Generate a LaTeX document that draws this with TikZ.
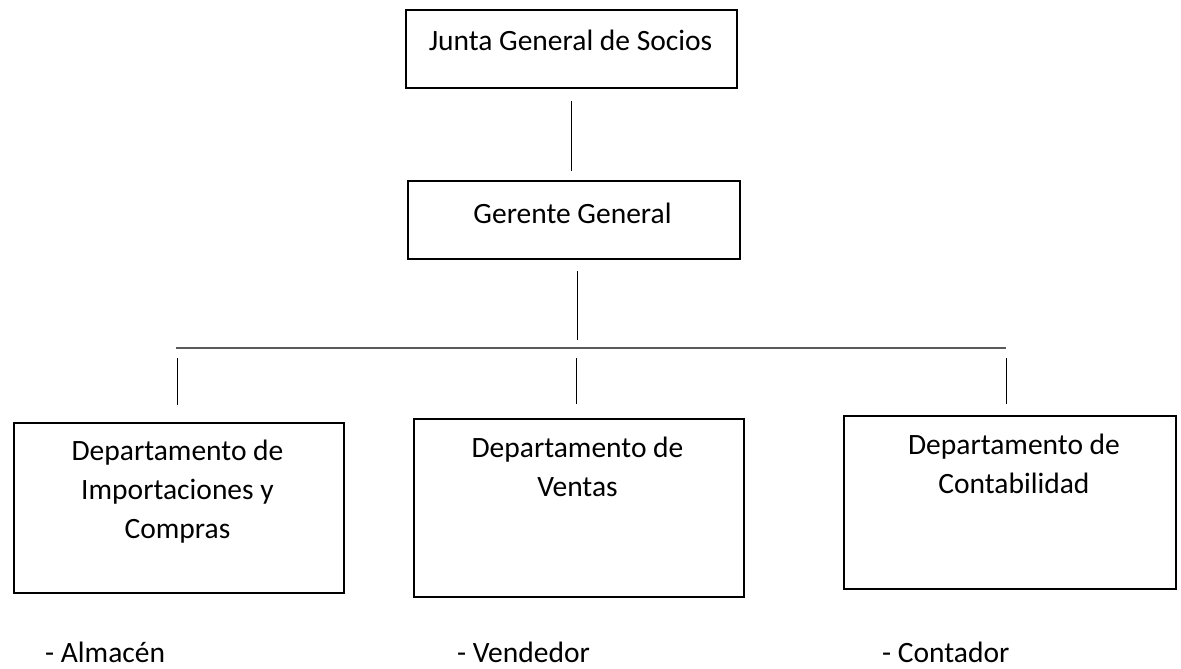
\documentclass[tikz,border=0pt]{standalone}
\usepackage{fontspec}
\setmainfont{Carlito}
\begin{document}
\begin{tikzpicture}[x=1pt,y=-1pt,
  box/.style={draw=black, line width=1.6pt, anchor=north west, inner sep=0pt},
  txt/.style={font=\fontsize{29.5}{39}\selectfont, align=center, inner sep=0pt},
  item/.style={font=\fontsize{29.5}{39}\selectfont, anchor=base west, inner sep=0pt},
  conn/.style={line width=1pt, draw=black},
  bar/.style={line width=1.8pt, draw=black!65}]
\useasboundingbox (0,0) rectangle (1181,669);
% boxes
\node[box, minimum width=331pt, minimum height=78pt] (junta) at (405,9) {};
\node[box, minimum width=332pt, minimum height=78pt] (gerente) at (407,180) {};
\node[box, minimum width=330pt, minimum height=170pt] (imp) at (13,422) {};
\node[box, minimum width=330pt, minimum height=178pt] (ventas) at (413,418) {};
\node[box, minimum width=332pt, minimum height=173pt] (cont) at (843,415) {};
% texts
\node[txt] (juntaT) at (570.5,40) {Junta General de Socios};
\node[txt] (gerenteT) at (572.5,213) {Gerente General};
\node[txt] (impT) at (177.5,492) {Departamento de\\Importaciones y\\Compras};
\node[txt] (ventasT) at (577.5,467) {Departamento de\\Ventas};
\node[txt] (contT) at (1014,464) {Departamento de\\Contabilidad};
\node[item] (almacen) at (45,662) {- Almacén};
\node[item] (vendedor) at (457,662) {- Vendedor};
\node[item] (contador) at (882,662) {- Contador};
% connectors
\coordinate (a1) at (571,101);
\coordinate (a2) at (571,171);
\coordinate (b1) at (577,271);
\coordinate (b2) at (577,340);
\coordinate (hl) at (176,348);
\coordinate (hr) at (1006,348);
\coordinate (c1) at (177,358);
\coordinate (c2) at (177,405);
\coordinate (d1) at (576,358);
\coordinate (d2) at (576,404);
\coordinate (e1) at (1006,358);
\coordinate (e2) at (1006,404);
\draw[conn] (a1) -- (a2);
\draw[conn] (b1) -- (b2);
\draw[bar] (hl) -- (hr);
\draw[conn] (c1) -- (c2);
\draw[conn] (d1) -- (d2);
\draw[conn] (e1) -- (e2);
\end{tikzpicture}
\end{document}
